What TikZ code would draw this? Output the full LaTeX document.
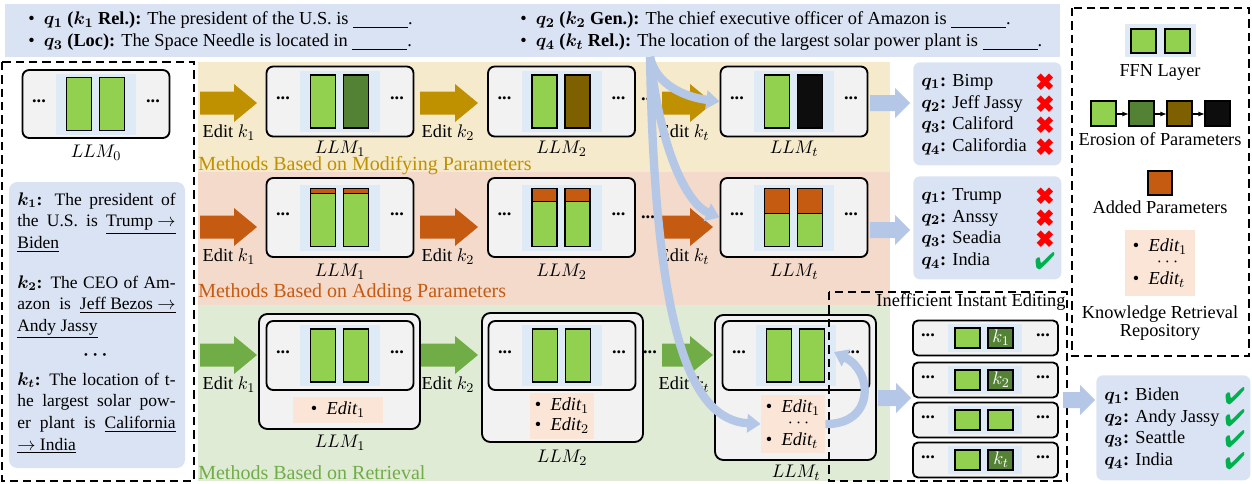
\documentclass[tikz,border=0pt]{standalone}
\usepackage{fontspec}
\setmainfont{Liberation Serif}
\usepackage{amsmath,bm,pifont}
\usetikzlibrary{arrows.meta}
\definecolor{qbg}{HTML}{DAE3F3}
\definecolor{ybg}{HTML}{F5EACB}
\definecolor{obg}{HTML}{F3DACB}
\definecolor{gbg}{HTML}{E0EBD5}
\definecolor{yarr}{HTML}{BF9000}
\definecolor{oarr}{HTML}{C55A11}
\definecolor{garr}{HTML}{70AD47}
\definecolor{lg}{HTML}{92D050}
\definecolor{dg}{HTML}{548235}
\definecolor{br}{HTML}{7F6000}
\definecolor{bk}{HTML}{0D0D0D}
\definecolor{boxbg}{HTML}{F2F2F2}
\definecolor{pan}{HTML}{DEEBF7}
\definecolor{edbg}{HTML}{FBE5D6}
\definecolor{barr}{HTML}{B4C7E7}
\definecolor{chk}{HTML}{00B050}
\tikzset{
 every node/.style={font=\fontsize{11}{13}\selectfont, inner sep=0pt},
 llmbox/.style={draw, line width=1.1pt, rounded corners=4pt, fill=boxbg, minimum width=88.2pt},
 outer/.style={draw, line width=1.1pt, rounded corners=5pt, fill=boxbg, minimum width=96.6pt},
 bar/.style={draw, line width=1pt},
 dashedbox/.style={draw, dashed, line width=1.1pt, dash pattern=on 5pt off 3pt},
 band/.style={font=\fontsize{12}{14}\selectfont, anchor=west},
 ans/.style={fill=qbg, rounded corners=4pt},
 anstxt/.style={anchor=west, font=\fontsize{11}{13}\selectfont},
 big/.style={barr, line width=5pt, -{Triangle[width=11pt,length=8pt]}},
 edit/.style={fill=edbg, inner sep=3pt, align=left},
 ktxt/.style={text width=95pt, align=justify, anchor=north west, font=\fontsize{10.5}{13}\selectfont},
 leg/.style={font=\fontsize{11}{12}\selectfont}
}
\newcommand\barrow[7]{\fill[#1] (#2,{#4-#5}) -- ({#3-#7},{#4-#5}) -- ({#3-#7},{#4-#6}) -- (#3,#4) -- ({#3-#7},{#4+#6}) -- ({#3-#7},{#4+#5}) -- (#2,{#4+#5}) -- cycle;}
\newcommand\barsI[5]{% cx cy halfh leftfill rightfill
 \fill[pan] ({#1-40},{#2-#3-4}) rectangle ({#1+40},{#2+#3+4});
 \draw[bar,fill=#4] ({#1-29.5},{#2-#3}) rectangle ({#1-4.5},{#2+#3});
 \draw[bar,fill=#5] ({#1+3.5},{#2-#3}) rectangle ({#1+28.5},{#2+#3});
 \node at ({#1-57},{#2-3}) {\textbf{...}};
 \node at ({#1+57},{#2-3}) {\textbf{...}};}
\newcommand\barsA[4]{% cx cy halfh cap
 \fill[pan] ({#1-40},{#2-#3-4}) rectangle ({#1+40},{#2+#3+4});
 \draw[bar,fill=lg] ({#1-29.5},{#2-#3}) rectangle ({#1-4.5},{#2+#3});
 \draw[bar,fill=lg] ({#1+3.5},{#2-#3}) rectangle ({#1+28.5},{#2+#3});
 \draw[bar,fill=oarr] ({#1-29.5},{#2-#3}) rectangle ({#1-4.5},{#2-#3+#4});
 \draw[bar,fill=oarr] ({#1+3.5},{#2-#3}) rectangle ({#1+28.5},{#2-#3+#4});
 \node at ({#1-57},{#2-3}) {\textbf{...}};
 \node at ({#1+57},{#2-3}) {\textbf{...}};}
\newcommand\stk[3]{% name cy fill
 \node[llmbox, minimum width=87pt, minimum height=21pt, rounded corners=3pt] (#1) at (985.5,#2) {};
 \fill[pan] (948,{#2-14}) rectangle (1022,{#2+14});
 \draw[bar,fill=lg] (955,{#2-10}) rectangle (980,{#2+10});
 \draw[bar,fill=#3] (988,{#2-10}) rectangle (1013,{#2+10});
 \node at (928,{#2-3}) {\textbf{...}};
 \node at (1043,{#2-3}) {\textbf{...}};}
\begin{document}
\begin{tikzpicture}[x=0.6pt,y=-0.6pt]
\useasboundingbox (0,0) rectangle (1252,483);
% query box
\node[fill=qbg, minimum width=633pt, minimum height=31.8pt, anchor=north west] (query) at (5,4) {};
\node[anchor=west] at (28,20) {\textbullet\ \ \textbf{$\bm{q_1}$ ($\bm{k_1}$ Rel.):} The president of the U.S. is \underline{\hspace{3em}}.};
\node[anchor=west] at (28,42) {\textbullet\ \ \textbf{$\bm{q_3}$ (Loc):} The Space Needle is located in \underline{\hspace{3em}}.};
\node[anchor=west] at (520,20) {\textbullet\ \ \textbf{$\bm{q_2}$ ($\bm{k_2}$ Gen.):} The chief executive officer of Amazon is \underline{\hspace{3em}}.};
\node[anchor=west] at (520,42) {\textbullet\ \ \textbf{$\bm{q_4}$ ($\bm{k_t}$ Rel.):} The location of the largest solar power plant is \underline{\hspace{3em}}.};
% bands
\fill[ybg] (198,62) rectangle (890,172);
\fill[obg] (198,172) rectangle (890,305);
\fill[gbg] (198,305) rectangle (890,481);
\node[band, text=yarr] at (198,166) {Methods Based on Modifying Parameters};
\node[band, text=oarr] at (198,293) {Methods Based on Adding Parameters};
\node[band, text=garr] at (198,473) {Methods Based on Retrieval};
% left panel
\draw[dashedbox] (2,62) rectangle (194,481);
\node[llmbox, minimum height=40.8pt] (llm0) at (96,104) {};
\barsI{96}{104}{26.5}{lg}{lg}
\node at (96,153) {$LLM_0$};
\fill[qbg, rounded corners=5pt] (9,182) rectangle (185,468);
\node[ktxt] (k1) at (17,192) {\textbf{$\bm{k_1}$:} The president of\linebreak the U.S. is \underline{Trump $\rightarrow$}\linebreak \underline{Biden}};
\node[ktxt] (k2) at (17,275) {\textbf{$\bm{k_2}$:} The CEO of Am-\linebreak azon is \underline{Jeff Bezos $\rightarrow$}\linebreak \underline{Andy Jassy}};
\node (kd) at (97,355) {\textbf{$\bm\cdots$}};
\node[ktxt] (kt) at (17,372) {\textbf{$\bm{k_t}$:} The location of t-\linebreak he largest solar pow-\linebreak er plant is \underline{California}\linebreak \underline{$\rightarrow$ India}};
% row 1
\barrow{yarr}{200}{257}{103}{11.5}{19}{23}
\barrow{yarr}{420}{478}{103}{11.5}{19}{23}
\barrow{yarr}{662}{713}{103}{11.5}{19}{23}
\node[llmbox, minimum height=42pt] (m1) at (340,101.5) {};
\barsI{340}{101.5}{26.5}{lg}{dg}
\node[llmbox, minimum height=42pt] (m2) at (561.5,101.5) {};
\barsI{561.5}{101.5}{26.5}{lg}{br}
\node[llmbox, minimum height=42pt] (mt) at (794,101.5) {};
\barsI{794}{101.5}{26.5}{lg}{bk}
\node at (648,99) {\textbf{...}};
\node at (229,133) {Edit $k_1$};
\node at (448,133) {Edit $k_2$};
\node at (684,133) {Edit $k_t$};
\node at (340,149) {$LLM_1$};
\node at (561.5,149) {$LLM_2$};
\node at (794,149) {$LLM_t$};
% row 2
\barrow{oarr}{200}{257}{227}{11.5}{19}{23}
\barrow{oarr}{420}{478}{227}{11.5}{19}{23}
\barrow{oarr}{662}{713}{227}{11.5}{19}{23}
\node[llmbox, minimum height=47.4pt] (a1) at (340,217.5) {};
\barsA{340}{217.5}{29}{5}
\node[llmbox, minimum height=47.4pt] (a2) at (561.5,217.5) {};
\barsA{561.5}{217.5}{29}{13}
\node[llmbox, minimum height=47.4pt] (at) at (794,217.5) {};
\barsA{794}{217.5}{29}{25}
\node at (648,217) {\textbf{...}};
\node at (229,257) {Edit $k_1$};
\node at (448,257) {Edit $k_2$};
\node at (684,257) {Edit $k_t$};
\node at (340,272) {$LLM_1$};
\node at (561.5,272) {$LLM_2$};
\node at (794,272) {$LLM_t$};
% row 3
\barrow{garr}{200}{257}{355}{11.5}{19}{23}
\barrow{garr}{420}{478}{355}{11.5}{19}{23}
\barrow{garr}{662}{713}{355}{11.5}{19}{23}
\node[outer, minimum height=69pt] (r1) at (339.5,371.5) {};
\node[llmbox, minimum height=41.4pt] (r1i) at (340,355.5) {};
\barsI{340}{355.5}{26.5}{lg}{lg}
\node[edit, minimum width=54pt, minimum height=15.6pt] (e1) at (338,410) {\textbullet\ \ $\mathit{Edit}_1$};
\node[outer, minimum height=77.4pt] (r2) at (562.5,377.5) {};
\node[llmbox, minimum height=41.4pt] (r2i) at (562,355.5) {};
\barsI{562}{355.5}{26.5}{lg}{lg}
\node[edit] (e2) at (562,416) {\textbullet\ \ $\mathit{Edit}_1$\\[-1pt]\textbullet\ \ $\mathit{Edit}_2$};
\node[outer, minimum height=87pt] (rt) at (795.5,387.5) {};
\node[llmbox, minimum height=41.4pt] (rti) at (796,355.5) {};
\barsI{796}{355.5}{26.5}{lg}{lg}
\node[edit] (et) at (793,424) {\textbullet\ \ $\mathit{Edit}_1$\\[-4pt]\hspace{1.2em}$\cdots$\\[-2pt]\textbullet\ \ $\mathit{Edit}_t$};
\node at (650,352) {\textbf{...}};
\node at (229,385) {Edit $k_1$};
\node at (448,385) {Edit $k_2$};
\node at (684,385) {Edit $k_t$};
\node at (340,443) {$LLM_1$};
\node at (562,458) {$LLM_2$};
\node at (796,473) {$LLM_t$};
% inefficient instant editing
\draw[dashedbox] (829,292) rectangle (1067,481);
\node at (971,302) {Inefficient Instant Editing};
\stk{s1}{338}{dg}
\node[text=white] at (1001,338) {$k_1$};
\stk{s2}{380}{dg}
\node[text=white] at (1001,380) {$k_2$};
\stk{s3}{420}{lg}
\stk{s4}{460}{dg}
\node[text=white] at (1001,460) {$k_t$};
% answers
\node[ans, minimum width=88.8pt, minimum height=61.8pt, anchor=north west] (ans1) at (913,62) {};
\node[ans, minimum width=88.8pt, minimum height=61.8pt, anchor=north west] (ans2) at (913,176) {};
\node[ans, minimum width=92.4pt, minimum height=63pt, anchor=north west] (ans3) at (1096,375) {};
\foreach \t/\y/\m in {{\textbf{$\bm{q_1}$:} Bimp}/82/0,{\textbf{$\bm{q_2}$:} Jeff Jassy}/104/0,{\textbf{$\bm{q_3}$:} Califord}/125/0,{\textbf{$\bm{q_4}$:} Califordia}/147/0,
 {\textbf{$\bm{q_1}$:} Trump}/196/0,{\textbf{$\bm{q_2}$:} Anssy}/218/0,{\textbf{$\bm{q_3}$:} Seadia}/239/0,{\textbf{$\bm{q_4}$:} India}/261/1}{
 \node[anstxt] at (921,\y) {\t};
 \ifnum\m=0 \node[text=red, font=\Large] at (1045,\y) {\ding{54}};\else \node[text=chk, font=\Large] at (1045,\y) {\ding{52}};\fi
}
\foreach \t/\y in {{\textbf{$\bm{q_1}$:} Biden}/396,{\textbf{$\bm{q_2}$:} Andy Jassy}/418,{\textbf{$\bm{q_3}$:} Seattle}/439,{\textbf{$\bm{q_4}$:} India}/461}{
 \node[anstxt] at (1104,\y) {\t};
 \node[text=chk, font=\Large] at (1235,\y) {\ding{52}};
}
% legend
\draw[dashedbox] (1072,8) rectangle (1249,356);
\fill[pan] (1125,24) rectangle (1196,57);
\draw[bar,fill=lg] (1131,29) rectangle (1156,53);
\draw[bar,fill=lg] (1165,29) rectangle (1190,53);
\node[leg] at (1160,72) {FFN Layer};
\foreach \c/\x [count=\i] in {lg/1091,dg/1129,br/1167,bk/1205}{
 \draw[bar,fill=\c] (\x,101) rectangle ({\x+25},126);
 \coordinate (er\i) at (\x,113);
}
\foreach \x in {1116,1154,1192}{\draw[-{Latex[length=4pt]}, line width=1pt] (\x,114) -- ({\x+13},114);}
\node[leg] at (1160,139) {Erosion of Parameters};
\draw[bar,fill=oarr] (1148,171) rectangle (1172,195);
\node[leg] at (1160,207) {Added Parameters};
\node[edit, inner sep=5pt] (led) at (1160,263) {\textbullet\ \ $\mathit{Edit}_1$\\[-4pt]\hspace{1.3em}$\cdots$\\[-2pt]\textbullet\ \ $\mathit{Edit}_t$};
\node[leg, align=center, font=\fontsize{11}{8.5}\selectfont] at (1160,323) {Knowledge Retrieval\\Repository};
% big blue arrows
\coordinate (src) at (650,57);
\draw[big] (src) .. controls (656,85) and (685,97) .. (mt.west);
\draw[big] (src) .. controls (662,160) and (690,205) .. (at.west);
\draw[big] (src) .. controls (655,330) and (690,420) .. (et.west);
\draw[big] (et.east) .. controls (874,425) and (874,372) .. (834,352);
\barrow{barr}{870}{910}{103}{8}{15}{15}
\barrow{barr}{870}{910}{230}{8}{15}{15}
\barrow{barr}{878}{911}{398}{8}{15}{15}
\barrow{barr}{1063}{1095}{400}{8}{15}{15}
\end{tikzpicture}
\end{document}
